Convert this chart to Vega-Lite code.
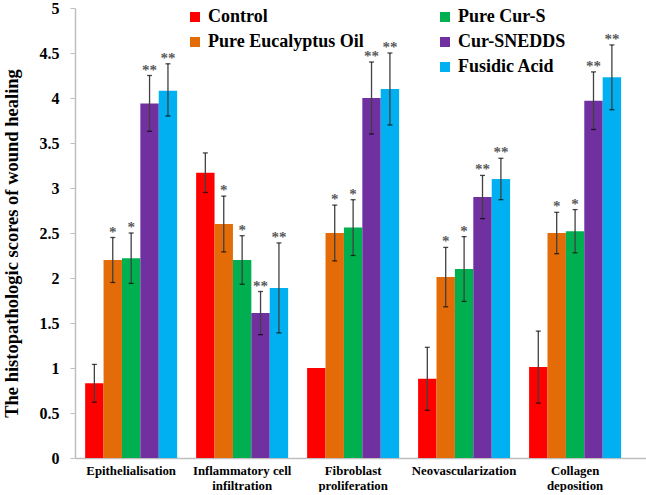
{
  "$schema": "https://vega.github.io/schema/vega-lite/v6.json",
  "width": 575,
  "height": 450,
  "padding": {"left": 2, "top": 0, "right": 1, "bottom": 0},
  "background": "white",
  "config": {
    "view": {"stroke": null},
    "font": "Liberation Serif"
  },
  "data": {
    "values": [
      {"group": "Epithelialisation", "treatment": "Control", "value": 0.83, "lo": 0.62, "hi": 1.04, "sig": ""},
      {"group": "Epithelialisation", "treatment": "Pure Eucalyptus Oil", "value": 2.2, "lo": 1.95, "hi": 2.45, "sig": "*"},
      {"group": "Epithelialisation", "treatment": "Pure Cur-S", "value": 2.22, "lo": 1.94, "hi": 2.5, "sig": "*"},
      {"group": "Epithelialisation", "treatment": "Cur-SNEDDS", "value": 3.94, "lo": 3.63, "hi": 4.25, "sig": "**"},
      {"group": "Epithelialisation", "treatment": "Fusidic Acid", "value": 4.08, "lo": 3.8, "hi": 4.38, "sig": "**"},
      {"group": "Inflammatory cell infiltration", "treatment": "Control", "value": 3.17, "lo": 2.95, "hi": 3.39, "sig": ""},
      {"group": "Inflammatory cell infiltration", "treatment": "Pure Eucalyptus Oil", "value": 2.6, "lo": 2.29, "hi": 2.91, "sig": "*"},
      {"group": "Inflammatory cell infiltration", "treatment": "Pure Cur-S", "value": 2.2, "lo": 1.93, "hi": 2.47, "sig": "*"},
      {"group": "Inflammatory cell infiltration", "treatment": "Cur-SNEDDS", "value": 1.61, "lo": 1.37, "hi": 1.85, "sig": "**"},
      {"group": "Inflammatory cell infiltration", "treatment": "Fusidic Acid", "value": 1.89, "lo": 1.39, "hi": 2.39, "sig": "**"},
      {"group": "Fibroblast proliferation", "treatment": "Control", "value": 1.0, "lo": null, "hi": null, "sig": ""},
      {"group": "Fibroblast proliferation", "treatment": "Pure Eucalyptus Oil", "value": 2.5, "lo": 2.19, "hi": 2.81, "sig": "*"},
      {"group": "Fibroblast proliferation", "treatment": "Pure Cur-S", "value": 2.56, "lo": 2.25, "hi": 2.87, "sig": "*"},
      {"group": "Fibroblast proliferation", "treatment": "Cur-SNEDDS", "value": 4.0, "lo": 3.6, "hi": 4.4, "sig": "**"},
      {"group": "Fibroblast proliferation", "treatment": "Fusidic Acid", "value": 4.1, "lo": 3.7, "hi": 4.5, "sig": "**"},
      {"group": "Neovascularization", "treatment": "Control", "value": 0.88, "lo": 0.53, "hi": 1.23, "sig": ""},
      {"group": "Neovascularization", "treatment": "Pure Eucalyptus Oil", "value": 2.01, "lo": 1.68, "hi": 2.34, "sig": "*"},
      {"group": "Neovascularization", "treatment": "Pure Cur-S", "value": 2.1, "lo": 1.74, "hi": 2.46, "sig": "*"},
      {"group": "Neovascularization", "treatment": "Cur-SNEDDS", "value": 2.9, "lo": 2.66, "hi": 3.14, "sig": "**"},
      {"group": "Neovascularization", "treatment": "Fusidic Acid", "value": 3.1, "lo": 2.87, "hi": 3.33, "sig": "**"},
      {"group": "Collagen deposition", "treatment": "Control", "value": 1.01, "lo": 0.61, "hi": 1.41, "sig": ""},
      {"group": "Collagen deposition", "treatment": "Pure Eucalyptus Oil", "value": 2.5, "lo": 2.27, "hi": 2.73, "sig": "*"},
      {"group": "Collagen deposition", "treatment": "Pure Cur-S", "value": 2.52, "lo": 2.28, "hi": 2.76, "sig": "*"},
      {"group": "Collagen deposition", "treatment": "Cur-SNEDDS", "value": 3.97, "lo": 3.65, "hi": 4.29, "sig": "**"},
      {"group": "Collagen deposition", "treatment": "Fusidic Acid", "value": 4.23, "lo": 3.87, "hi": 4.59, "sig": "**"}
    ]
  },
  "encoding": {
    "x": {
      "field": "group",
      "type": "nominal",
      "scale": {
        "domain": ["Epithelialisation", "Inflammatory cell infiltration", "Fibroblast proliferation", "Neovascularization", "Collagen deposition"],
        "paddingInner": 0.171,
        "paddingOuter": 0.176,
        "align": 0.26
      },
      "axis": {
        "title": null,
        "labelAngle": 0,
        "labelFont": "Liberation Serif",
        "labelFontWeight": "bold",
        "labelFontSize": 12.8,
        "labelColor": "black",
        "labelPadding": 6,
        "labelLineHeight": 15,
        "ticks": false,
        "domainColor": "#BFBFBF",
        "domainWidth": 1.5,
        "labelExpr": "indexof(datum.label, ' ') < 0 ? datum.label : [slice(datum.label, 0, lastindexof(datum.label, ' ')), slice(datum.label, lastindexof(datum.label, ' ') + 1)]"
      }
    },
    "xOffset": {
      "field": "treatment",
      "type": "nominal",
      "scale": {
        "domain": ["Control", "Pure Eucalyptus Oil", "Pure Cur-S", "Cur-SNEDDS", "Fusidic Acid"],
        "paddingInner": 0,
        "paddingOuter": 0
      }
    }
  },
  "layer": [
    {
      "mark": {"type": "bar"},
      "encoding": {
        "y": {
          "field": "value",
          "type": "quantitative",
          "scale": {"domain": [0, 5], "nice": false},
          "axis": {
            "title": "The  histopathologic scores of wound healing",
            "titleFont": "Liberation Serif",
            "titleFontWeight": "bold",
            "titleFontSize": 18.5,
            "titleColor": "black",
            "titlePadding": 18,
            "titleY": 235,
            "values": [0, 0.5, 1, 1.5, 2, 2.5, 3, 3.5, 4, 4.5, 5],
            "format": "~g",
            "labelFont": "Liberation Serif",
            "labelFontWeight": "bold",
            "labelFontSize": 16,
            "labelColor": "black",
            "labelPadding": 11,
            "grid": false,
            "domainColor": "#BFBFBF",
            "domainWidth": 1.5,
            "tickColor": "#BFBFBF",
            "tickSize": 5
          }
        },
        "color": {
          "field": "treatment",
          "type": "nominal",
          "scale": {
            "domain": ["Control", "Pure Eucalyptus Oil", " ", "Pure Cur-S", "Cur-SNEDDS", "Fusidic Acid"],
            "range": ["#FF0000", "#E36C09", "#FFFFFF", "#00B050", "#7030A0", "#00B0F0"]
          },
          "legend": {
            "title": null,
            "orient": "none",
            "legendX": 111,
            "legendY": 0,
            "columns": 2,
            "columnPadding": 72,
            "rowPadding": 7,
            "symbolType": "square",
            "symbolSize": 100,
            "symbolStrokeWidth": 0,
            "symbolOpacity": 1,
            "labelFont": "Liberation Serif",
            "labelFontWeight": "bold",
            "labelFontSize": 18,
            "labelColor": "black",
            "labelOffset": 4,
            "labelLimit": 300
          }
        }
      }
    },
    {
      "mark": {"type": "rule", "color": "#404040", "strokeWidth": 1.3},
      "encoding": {
        "y": {"field": "lo", "type": "quantitative"},
        "y2": {"field": "hi"}
      }
    },
    {
      "mark": {"type": "tick", "color": "black", "size": 5, "thickness": 1.3},
      "encoding": {
        "y": {"field": "lo", "type": "quantitative"}
      }
    },
    {
      "mark": {"type": "tick", "color": "black", "size": 5, "thickness": 1.3},
      "encoding": {
        "y": {"field": "hi", "type": "quantitative"}
      }
    },
    {
      "mark": {"type": "text", "font": "Liberation Serif", "fontSize": 15, "fontWeight": "bold", "color": "#595959", "baseline": "alphabetic", "dy": -1},
      "encoding": {
        "y": {"field": "hi", "type": "quantitative"},
        "text": {"field": "sig"}
      }
    }
  ]
}
